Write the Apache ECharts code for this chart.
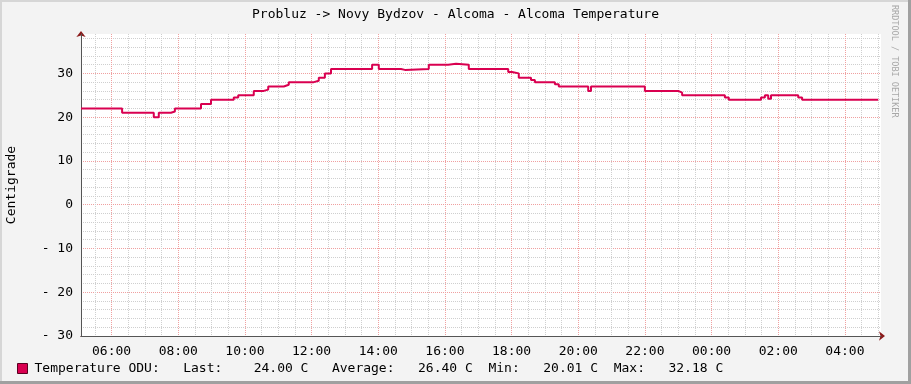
<!DOCTYPE html>
<html>
<head>
<meta charset="utf-8">
<script src="https://cdn.jsdelivr.net/npm/echarts@6/dist/echarts.min.js"></script>
<style>
html,body{margin:0;padding:0;background:#f3f3f3;}
#chart{width:911px;height:384px;}
</style>
</head>
<body>
<div id="chart"></div>
<script>
// Time of each level change, minutes since 00:00 of the first day
const timesMin = [305, 379, 436, 445, 467, 474, 521, 539, 580, 588, 616, 634, 642, 670, 679, 724, 733, 744, 755,
  829, 841, 881, 888, 931, 966, 980, 1003, 1074, 1081, 1093, 1115, 1122, 1158, 1165, 1218, 1223, 1320, 1380, 1387,
  1464, 1471, 1529, 1536, 1542, 1547, 1596, 1603, 1740];
// Temperature (°C) from each change onward
const temps = [22, 21, 20, 21, 21.3, 22, 23, 24, 24.5, 25, 26, 26.3, 27, 27.4, 28, 28.3, 29, 30, 31,
  32, 31, 30.8, 31, 32, 32.2, 32, 31, 30.3, 30, 29, 28.5, 28, 27.5, 27, 26, 27, 26, 25.6, 25,
  24.5, 24, 24.5, 25, 24.2, 25, 24.5, 24, 24];
const axisStartMin = 305;   // 05:05
const axisEndMin = 1745;    // 05:05 next day
const yTicks = [-30, -20, -10, 0, 10, 20, 30];
const seriesName = 'Temperature ODU';
const statNames = ['Last', 'Average', 'Min', 'Max'];
const statValues = [24.00, 26.40, 20.01, 32.18];
const titleText = 'Probluz -> Novy Bydzov - Alcoma - Alcoma Temperature';

const FONT = 'DejaVu Sans Mono';
const LINE = '#d90050';

const chart = echarts.init(document.getElementById('chart'), null, {renderer: 'canvas'});

const data = timesMin.map((t, i) => [t, temps[i]]);

function hhmm(v) {
  const h = Math.floor(v / 60) % 24;
  const m = Math.round(v % 60);
  return String(h).padStart(2, '0') + ':' + String(m).padStart(2, '0');
}

const legendText = seriesName + ':   ' +
  statNames[0] + ':    ' + statValues[0].toFixed(2) + ' C   ' +
  statNames[1] + ':   ' + statValues[1].toFixed(2) + ' C  ' +
  statNames[2] + ':   ' + statValues[2].toFixed(2) + ' C  ' +
  statNames[3] + ':   ' + statValues[3].toFixed(2) + ' C';

const option = {
  animation: false,
  backgroundColor: '#f3f3f3',
  textStyle: {fontFamily: FONT},
  title: {
    text: titleText,
    left: 'center',
    top: 3,
    textStyle: {fontFamily: FONT, fontSize: 13, fontWeight: 'normal', color: '#000'}
  },
  legend: {
    left: 12,
    top: 357,
    itemWidth: 10,
    itemHeight: 10,
    icon: 'rect',
    data: [seriesName],
    formatter: () => legendText,
    textStyle: {fontFamily: FONT, fontSize: 13, color: '#000', padding: [0, 0, 0, 2]},
    itemStyle: {borderColor: '#5a0020', borderWidth: 1}
  },
  grid: {
    left: 81, right: 30, top: 34, bottom: 48,
    containLabel: false,
    outerBoundsMode: 'none',
    show: true, backgroundColor: '#ffffff', borderWidth: 0
  },
  xAxis: [
    {
      type: 'value', min: axisStartMin, max: axisEndMin, position: 'bottom',
      splitNumber: 12, minInterval: 120, maxInterval: 120,
      z: 1,
      axisLine: {show: true, onZero: false, lineStyle: {color: '#555', width: 1}},
      axisTick: {show: false},
      axisLabel: {
        show: true, margin: 9, showMinLabel: false, showMaxLabel: false,
        fontFamily: FONT, fontSize: 13, color: '#000',
        formatter: v => (v % 120 === 0 ? hhmm(v) : '')
      },
      splitLine: {show: true, showMinLine: false, showMaxLine: false,
        lineStyle: {color: '#f0a0a0', width: 1, type: [1, 1]}},
      minorTick: {show: false, splitNumber: 4},
      minorSplitLine: {show: true, lineStyle: {color: '#cfcfcf', width: 1, type: [1, 1]}}
    },
    {
      type: 'value', min: axisStartMin, max: axisEndMin, position: 'bottom', offset: 0, z: 0,
      axisLine: {show: true, onZero: false, symbol: ['none', 'arrow'], symbolSize: [7, 6], symbolOffset: [0, 4],
        lineStyle: {color: '#8b1a1a', width: 1}},
      axisTick: {show: false}, axisLabel: {show: false}, splitLine: {show: false}
    }
  ],
  yAxis: [
    {
      type: 'value', min: yTicks[0], max: 39, interval: 10, position: 'left',
      z: 1,
      name: 'Centigrade',
      nameLocation: 'middle',
      nameGap: 63,
      nameTextStyle: {fontFamily: FONT, fontSize: 13, color: '#000'},
      axisLine: {show: true, onZero: false, lineStyle: {color: '#555', width: 1}},
      axisTick: {show: false},
      axisLabel: {
        show: true, margin: 8, showMaxLabel: false,
        fontFamily: FONT, fontSize: 13, color: '#000',
        formatter: v => (yTicks.indexOf(v) < 0 ? '' : (v < 0 ? '- ' + (-v) : String(v)))
      },
      splitLine: {show: true, showMinLine: false, showMaxLine: false,
        lineStyle: {color: '#f0a0a0', width: 1, type: [1, 1]}},
      minorTick: {show: false, splitNumber: 5},
      minorSplitLine: {show: true, lineStyle: {color: '#cfcfcf', width: 1, type: [1, 1]}}
    },
    {
      type: 'value', min: yTicks[0], max: 39, position: 'left', offset: 0, z: 0,
      axisLine: {show: true, onZero: false, symbol: ['none', 'arrow'], symbolSize: [7, 6], symbolOffset: [0, 3],
        lineStyle: {color: '#8b1a1a', width: 1}},
      axisTick: {show: false}, axisLabel: {show: false}, splitLine: {show: false}
    }
  ],
  series: [{
    name: seriesName,
    type: 'line',
    xAxisIndex: 0,
    yAxisIndex: 0,
    step: 'end',
    showSymbol: false,
    data: data,
    itemStyle: {color: LINE},
    lineStyle: {color: LINE, width: 2}
  }],
  graphic: [
    {type: 'rect', left: 0, top: 0, shape: {width: 911, height: 2}, style: {fill: '#d6d6d6'}, silent: true},
    {type: 'rect', left: 0, top: 0, shape: {width: 2, height: 384}, style: {fill: '#d6d6d6'}, silent: true},
    {type: 'rect', right: 0, top: 0, shape: {width: 3, height: 384}, style: {fill: '#a0a0a0'}, silent: true},
    {type: 'rect', left: 0, bottom: 0, shape: {width: 911, height: 3}, style: {fill: '#a0a0a0'}, silent: true},
    {
      type: 'text', x: 899, y: 5, rotation: -Math.PI / 2, silent: true,
      style: {text: 'RRDTOOL / TOBI OETIKER', fontFamily: FONT, fontSize: 8.5, fill: '#a8a8a8',
        textAlign: 'left', textVerticalAlign: 'top'}
    }
  ]
};
chart.setOption(option);
</script>
</body>
</html>
